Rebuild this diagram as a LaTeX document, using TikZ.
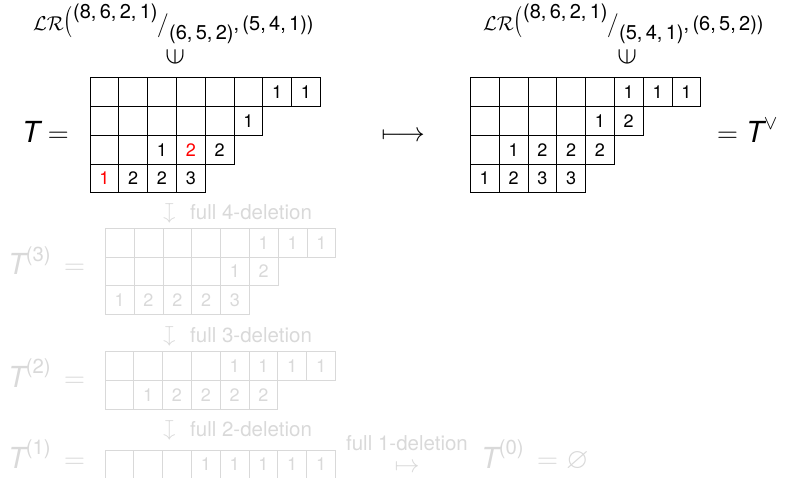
\RequirePackage{fix-cm}
\documentclass[tikz,border=0pt]{standalone}
\usepackage{amsmath,amssymb}
\usepackage{graphicx}
\usepackage[no-math]{fontspec}
\setmainfont{TeX Gyre Heros}

% one row of a skew tableau: name prefix, left edge, row centre, entries
\newcommand\tabrow[4]{%
  \foreach \e [count=\c] in {#4}{%
    \node[cell] (#1-\c) at ({#2+(\c-0.5)*28.8},{#3}) {\e};}}

% the set LR(lambda/mu, nu), written out with its raised and lowered parts
\newcommand\lrset[3]{%
  $\mathcal{LR}$\raisebox{2pt}{\scalebox{1}[1.3]{$\bigl($}}%
  \raisebox{12pt}{#1}$\big/$\raisebox{-9pt}{#2},\,#3)}

\tikzset{
  cell/.style={draw, line width=0.8pt, minimum size=28.8pt, inner sep=0pt,
               font=\fontsize{18}{18}\selectfont},
  big/.style={font=\fontsize{29}{32}\selectfont, inner sep=0pt},
  lab/.style={font=\fontsize{20.5}{22}\selectfont, inner sep=0pt},
  lr/.style={font=\fontsize{20}{24}\selectfont, inner sep=0pt},
  member/.style={font=\fontsize{20}{20}\selectfont, inner sep=0pt, rotate=90, scale=1.45},
  downmap/.style={font=\fontsize{20}{20}\selectfont, inner sep=0pt, rotate=-90, scale=1.1},
}

\begin{document}
\begin{tikzpicture}[x=1pt,y=-1pt]
\useasboundingbox (0,0) rectangle (787,478);
\clip (0,0) rectangle (787,478);

% ---- the tableau T and its image T^vee ----
\node[lr, anchor=base west] (lrL) at (33,31)
  {\lrset{(8,\,6,\,2,\,1)}{(6,\,5,\,2)}{(5,\,4,\,1)}};
\node[member] (inL) at (175,57) {$\in$};
\node[lr, anchor=base west] (lrR) at (483,31)
  {\lrset{(8,\,6,\,2,\,1)}{(5,\,4,\,1)}{(6,\,5,\,2)}};
\node[member] (inR) at (627,57) {$\in$};

\node[big, anchor=base west] (Tlab) at (22,143) {$\textit{T}=$};
\tabrow{A1}{90}{92.1}{{},{},{},{},{},{},1,1}
\tabrow{A2}{90}{120.9}{{},{},{},{},{},1}
\tabrow{A3}{90}{149.7}{{},{},1,{\textcolor{red}{2}},2}
\tabrow{A4}{90}{178.5}{{\textcolor{red}{1}},2,2,3}

\node[inner sep=0pt, font=\fontsize{27}{30}\selectfont, anchor=base] (map) at (403,142) {$\longmapsto$};

\tabrow{B1}{470.3}{92.1}{{},{},{},{},{},1,1,1}
\tabrow{B2}{470.3}{120.9}{{},{},{},{},1,2}
\tabrow{B3}{470.3}{149.7}{{},1,2,2,2}
\tabrow{B4}{470.3}{178.5}{1,2,3,3}
\node[big, anchor=base west] (Tvee) at (717,143) {$=\textit{T}^{\vee}$};

% ---- the chain of full deletions ----
\begin{scope}[color=black!15]
\node[downmap] (d4) at (168,214) {$\mapsto$};
\node[lab, anchor=base west] (d4t) at (190,220) {full 4-deletion};

\node[big, anchor=base west] (T3lab) at (8,275) {$\textit{T}^{\text{(3)}}\,=$};
\tabrow{C1}{105.3}{242.7}{{},{},{},{},{},1,1,1}
\tabrow{C2}{105.3}{271.5}{{},{},{},{},1,2}
\tabrow{C3}{105.3}{300.3}{1,2,2,2,3}

\node[downmap] (d3) at (168,336) {$\mapsto$};
\node[lab, anchor=base west] (d3t) at (190,342) {full 3-deletion};

\node[big, anchor=base west] (T2lab) at (8,387) {$\textit{T}^{\text{(2)}}\,=$};
\tabrow{D1}{105}{366.1}{{},{},{},{},1,1,1,1}
\tabrow{D2}{105}{394.9}{{},1,2,2,2,2}

\node[downmap] (d2) at (168,430) {$\mapsto$};
\node[lab, anchor=base west] (d2t) at (190,436) {full 2-deletion};

\node[big, anchor=base west] (T1lab) at (8,468) {$\textit{T}^{\text{(1)}}\,=$};
\tabrow{E1}{105}{464.4}{{},{},{},1,1,1,1,1}

\node[lab, anchor=base] (d1t) at (407,450) {full 1-deletion};
\node[inner sep=0pt, font=\fontsize{20}{20}\selectfont, scale=1.25] (d1) at (407,468) {$\mapsto$};
\node[big, anchor=base west] (T0lab) at (481,468) {$\textit{T}^{\text{(0)}}\,=\varnothing$};
\end{scope}
\end{tikzpicture}
\end{document}
